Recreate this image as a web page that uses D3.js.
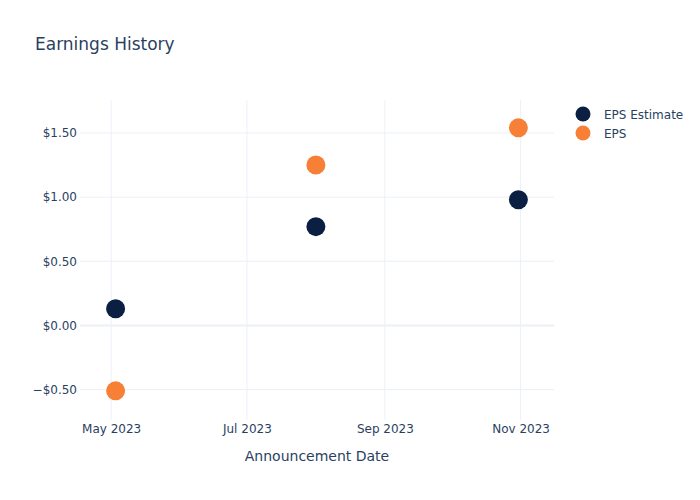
<!DOCTYPE html>
<html>
<head>
<meta charset="utf-8">
<script src="https://cdn.jsdelivr.net/npm/d3@7"></script>
<style>
body{margin:0;background:#fff;}
svg{font-family:"DejaVu Sans",Verdana,Arial,sans-serif;}
</style>
</head>
<body>
<div id="chart"></div>
<script>
const dates = ["2023-05-03", "2023-08-01", "2023-10-31"];
const epsEstimate = [0.13, 0.77, 0.98];
const eps = [-0.51, 1.25, 1.54];
const seriesNames = ["EPS Estimate", "EPS"];
const seriesColors = ["#0b1f43", "#f77f36"];
const xTicks = ["2023-05-01", "2023-07-01", "2023-09-01", "2023-11-01"];
const yTicks = [-0.5, 0, 0.5, 1.0, 1.5];

const W = 700, H = 500;
const m = {l: 80, r: 146, t: 100, b: 80};
const parse = d3.timeParse("%Y-%m-%d");
const FONT = '"DejaVu Sans",Verdana,Arial,sans-serif';
const svg = d3.select("#chart").append("svg").attr("width", W).attr("height", H);

const x = d3.scaleTime()
  .domain([parse("2023-04-17"), parse("2023-11-16")])
  .range([m.l, W - m.r]);
const y = d3.scaleLinear()
  .domain([-0.737, 1.757])
  .range([H - m.b, m.t]);

const grid = "#ebf0f8";
const txt = "#2a3f5f";

// grid
svg.append("g").selectAll("line").data(xTicks).join("line")
  .attr("x1", d => x(parse(d))).attr("x2", d => x(parse(d)))
  .attr("y1", m.t).attr("y2", H - m.b)
  .attr("stroke", grid).attr("stroke-width", 1);
svg.append("g").selectAll("line").data(yTicks).join("line")
  .attr("x1", m.l).attr("x2", W - m.r)
  .attr("y1", d => y(d)).attr("y2", d => y(d))
  .attr("stroke", grid).attr("stroke-width", d => d === 0 ? 2 : 1);

// axes
const xAxis = d3.axisBottom(x).tickValues(xTicks.map(parse))
  .tickFormat(d3.timeFormat("%b %Y")).tickSize(0).tickPadding(4);
const gx = svg.append("g").attr("transform", `translate(0,${H - m.b})`).call(xAxis);
gx.select(".domain").remove();
gx.selectAll("text").attr("fill", txt).attr("font-size", 12).attr("font-family", FONT);

const fmt = v => (v < 0 ? "\u2212" : "") + "$" + Math.abs(v).toFixed(2);
const yAxis = d3.axisLeft(y).tickValues(yTicks).tickFormat(fmt).tickSize(0).tickPadding(3);
const gy = svg.append("g").attr("transform", `translate(${m.l},0)`).call(yAxis);
gy.select(".domain").remove();
gy.selectAll("text").attr("fill", txt).attr("font-size", 12).attr("font-family", FONT);

// points
const series = [epsEstimate, eps];
series.forEach((vals, i) => {
  svg.append("g").selectAll("circle").data(vals).join("circle")
    .attr("cx", (d, j) => x(parse(dates[j])))
    .attr("cy", d => y(d))
    .attr("r", 9.5)
    .attr("fill", seriesColors[i]);
});

// title
svg.append("text").attr("x", 35).attr("y", 50)
  .attr("fill", txt).attr("font-size", 17).attr("font-family", FONT).text("Earnings History");

// x axis title
svg.append("text").attr("x", (m.l + W - m.r) / 2).attr("y", 461)
  .attr("text-anchor", "middle").attr("fill", txt).attr("font-size", 14).attr("font-family", FONT)
  .text("Announcement Date");

// legend
const lg = svg.append("g");
seriesNames.forEach((n, i) => {
  lg.append("circle").attr("cx", 583).attr("cy", 114 + i * 19).attr("r", 7.5)
    .attr("fill", seriesColors[i]);
  lg.append("text").attr("x", 604).attr("y", 118.5 + i * 19)
    .attr("fill", txt).attr("font-size", 12).attr("font-family", FONT).text(n);
});
</script>
</body>
</html>
